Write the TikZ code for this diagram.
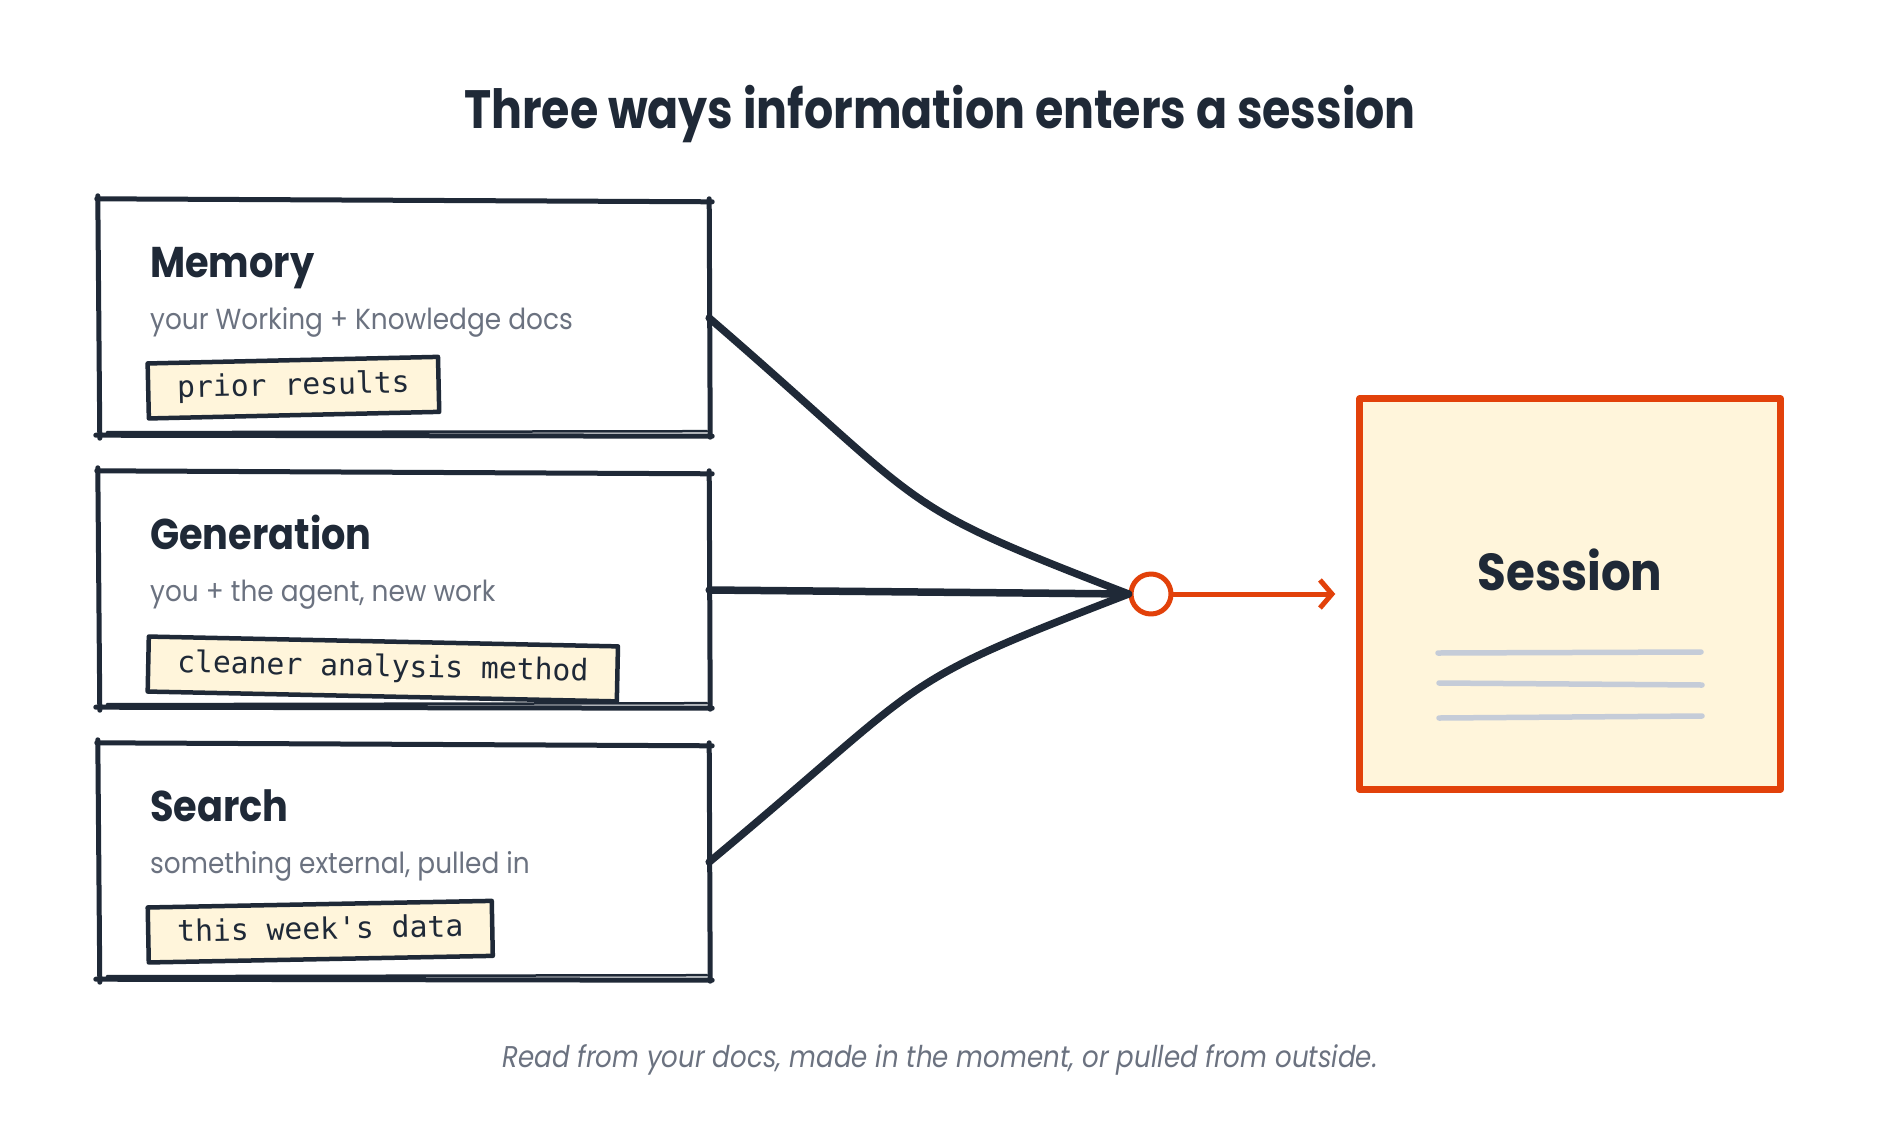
\documentclass[tikz,border=0pt]{standalone}
\usepackage{fontspec}
\setmainfont{Poppins}
\newfontfamily\titlefont{Poppins}[FakeStretch=0.85]
\newfontfamily\headfont{Poppins}[FakeStretch=0.89]
\newfontfamily\subfont{Poppins}[FakeStretch=0.91]
\newfontfamily\sessfont{Poppins}[FakeStretch=0.90]
\newfontfamily\capfont{Poppins}[FakeStretch=0.87]
\newfontfamily\codefont{DejaVu Sans Mono}
\usetikzlibrary{calc,arrows.meta}
\definecolor{ink}{HTML}{1F2937}
\definecolor{muted}{HTML}{6B7280}
\definecolor{accent}{HTML}{E2410A}
\definecolor{cream}{HTML}{FFF5DB}
\definecolor{rulegray}{HTML}{C5CCD8}
\tikzset{
  box/.style={inner sep=0pt, minimum width=610pt, minimum height=234pt},
  skline/.style={draw=ink, line width=5pt},
  head/.style={anchor=base west, text=ink, inner sep=0pt, font={\headfont\fontsize{43}{48}\selectfont\bfseries}},
  subt/.style={anchor=base west, text=muted, inner sep=0pt, font={\subfont\fontsize{29}{34}\selectfont}},
  tag/.style={anchor=west, fill=cream, draw=ink, line width=4.5pt, text=ink,
    font={\codefont\fontsize{29.7}{34}\selectfont}, inner xsep=29pt, inner ysep=13pt,
    text height=22pt, text depth=7pt},
  conn/.style={draw=ink, line width=7.5pt},
  flow/.style={draw=accent, line width=5pt},
}
\newcommand\sketchbox[1]{%
  \draw[skline] ($(#1.north west)+(-2,-2)$) -- ($(#1.north east)+(3,1)$);
  \draw[skline] ($(#1.north east)+(0,-2)$) -- ($(#1.south east)+(1,2)$);
  \draw[skline] ($(#1.south east)+(3,1)$) -- ($(#1.south west)+(-3,0)$);
  \draw[skline, line width=2.5pt] ($(#1.south east)+(-2,-4)$) -- ($(#1.south west)+(8,-3)$);
  \draw[skline] ($(#1.south west)+(1,3)$) -- ($(#1.north west)+(-1,-5)$);
}
\begin{document}
\begin{tikzpicture}[x=1pt, y=-1pt, line cap=round, line join=round]
\useasboundingbox[fill=white] (0,0) rectangle (1880,1144);

% title
\node[anchor=base, text=ink, inner sep=0pt, font={\titlefont\fontsize{54}{60}\selectfont\bfseries}] (title) at (940,128) {Three ways information enters a session};

% source boxes
\node[box] (mem) at (404,318) {};
\node[box] (gen) at (404,590) {};
\node[box] (sea) at (404,862) {};
\sketchbox{mem}
\sketchbox{gen}
\sketchbox{sea}

\node[head] (memH) at (150,277) {Memory};
\node[subt] (memS) at (150,329) {your Working + Knowledge docs};
\node[tag, rotate=1.3] (memT) at (146,391) {prior results};

\node[head] (genH) at (150,549) {Generation};
\node[subt] (genS) at (150,601) {you + the agent, new work};
\node[tag, rotate=-1.2] (genT) at (146,664) {cleaner analysis method};

\node[head] (seaH) at (150,821) {Search};
\node[subt] (seaS) at (150,873) {something external, pulled in};
\node[tag, rotate=1.1] (seaT) at (146,935) {this week's data};

% session
\node[draw=accent, fill=cream, line width=6.5pt, minimum width=421pt, minimum height=391pt, inner sep=0pt] (sess) at (1570,594) {};
\node[anchor=base, text=ink, inner sep=0pt, font={\sessfont\fontsize{52}{58}\selectfont\bfseries}] (sessT) at (1570,590) {Session};
\draw[rulegray, line width=5.5pt] ($(sess.center)+(-132,59)$) -- ($(sess.center)+(131,58)$);
\draw[rulegray, line width=5.5pt] ($(sess.center)+(-131,89)$) -- ($(sess.center)+(132,91)$);
\draw[rulegray, line width=5.5pt] ($(sess.center)+(-131,124)$) -- ($(sess.center)+(132,122)$);

% hub and connectors
\node[circle, draw=accent, fill=white, line width=5pt, minimum size=40pt, inner sep=0pt] (hub) at (1151,594) {};
\draw[conn] (mem.east) .. controls +(227,196) and +(-241,-93) .. (hub.west);
\draw[conn] (gen.east) -- (hub.west);
\draw[conn] (sea.east) .. controls +(227,-189) and +(-241,93) .. (hub.west);
\draw[flow, -{Straight Barb[length=12pt,width=28pt]}, shorten >=21pt] (hub.east) -- (sess.west);

% caption
\node[anchor=base, text=muted, inner sep=0pt, font={\capfont\fontsize{30}{36}\selectfont\itshape}] (cap) at (940,1067) {Read from your docs, made in the moment, or pulled from outside.};
\end{tikzpicture}
\end{document}
